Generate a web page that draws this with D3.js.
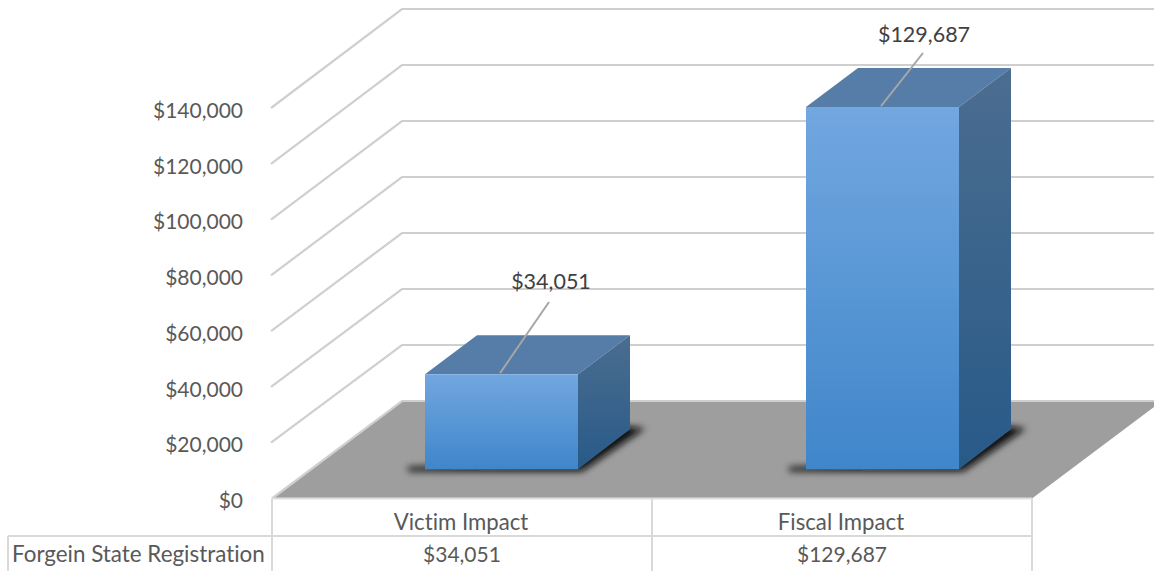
<!DOCTYPE html>
<html>
<head>
<meta charset="utf-8">
<script src="https://cdn.jsdelivr.net/npm/d3@7/dist/d3.min.js"></script>
<style>
html,body{margin:0;padding:0;background:#fff;overflow:hidden}
svg{display:block}
text{font-family:Lato,"Open Sans",sans-serif;font-size:21px;fill:#595959;font-variant-ligatures:none}
text.word{font-size:22.2px}
text.series{font-size:22.4px}
text.data{font-size:21.5px;fill:#404040}
</style>
</head>
<body>
<svg id="c" width="1154" height="571"></svg>
<script>
const categories = ["Victim Impact", "Fiscal Impact"];
const seriesName = "Forgein State Registration";
const seriesValues = [34051, 129687];
const tickValues = [0, 20000, 40000, 60000, 80000, 100000, 120000, 140000];

const fmt = d3.format("$,.0f");
const svg = d3.select("#c");
const W = 1154, H = 571;

const x = d3.scaleBand().domain(categories).range([272, 1032]);
const xBar = d3.scaleBand().domain(categories).range([272, 1034]);
const yFront = d3.scaleLinear().domain([0, 140000]).range([498.5, 108]);
const yBack = d3.scaleLinear().domain([0, 140000]).range([401, 9]);
const DEPTH_X = 130;
const depthStart = 0.3, depthEnd = 0.7, barW = 153;
const project = (px, v, d) => {
  const yf = yFront(v), yb = yBack(v);
  return [px + DEPTH_X * d, yf + (yb - yf) * d];
};
const line = d3.line();

const defs = svg.append("defs");
function grad(id, c0, c1) {
  const g = defs.append("linearGradient").attr("id", id).attr("x1", 0).attr("x2", 0).attr("y1", 0).attr("y2", 1);
  g.append("stop").attr("offset", 0).attr("stop-color", c0);
  g.append("stop").attr("offset", 1).attr("stop-color", c1);
}
grad("front", "#72a7e0", "#3f86ca");
grad("side", "#4b6d90", "#285a88");
defs.append("filter").attr("id", "blur").attr("x", "-20%").attr("y", "-30%").attr("width", "140%").attr("height", "160%")
  .append("feGaussianBlur").attr("stdDeviation", 3.5);

// floor
svg.append("path")
  .attr("d", line([[x.range()[0], yFront(0)], [x.range()[0] + DEPTH_X, yBack(0)], [x.range()[1] + DEPTH_X, yBack(0)], [x.range()[1], yFront(0)]]) + "Z")
  .attr("fill", "#9e9e9e");

// gridlines
const walls = svg.append("g").attr("fill", "none").attr("stroke", "#cfcfcf").attr("stroke-width", 2.2);
tickValues.forEach(t => {
  const pts = t === 0
    ? [[x.range()[0], yFront(0)], [x.range()[0] + DEPTH_X, yBack(0)], [W + 10, yBack(0)]]
    : [[x.range()[0] - 1, yFront(t)], [x.range()[0] + DEPTH_X, yBack(t)], [W + 10, yBack(t)]];
  walls.append("path").attr("d", line(pts));
});
svg.append("path").attr("fill", "none").attr("stroke", "#dedede").attr("stroke-width", 2)
  .attr("d", line([[x.range()[0], yFront(0)], [x.range()[1], yFront(0)]]));

// bars
categories.forEach((cat, i) => {
  const v = seriesValues[i];
  const cx = xBar(cat) + xBar.bandwidth() / 2;
  const l = cx - barW / 2, r = cx + barW / 2;
  const fbl = project(l, 0, depthStart), fbr = project(r, 0, depthStart), ftl = project(l, v, depthStart), ftr = project(r, v, depthStart);
  const dx = DEPTH_X * (depthEnd - depthStart);
  const bbr = [fbr[0] + dx, fbr[1] - 40];
  const btr = [ftr[0] + dx, ftr[1] - 39];
  const btl = [ftl[0] + dx, ftl[1] - 39];

  svg.append("path")
    .attr("d", line([[fbl[0] - 17, fbl[1] + 2], [fbr[0] + 4, fbr[1] + 2], [bbr[0] + 15, bbr[1] - 1], [bbr[0] - 6, bbr[1] - 3], [fbr[0] - 6, fbr[1] - 8], [fbl[0] - 17, fbl[1] - 2]]) + "Z")
    .attr("fill", "#111").attr("filter", "url(#blur)");

  svg.append("path").attr("d", line([ftl, ftr, btr, btl]) + "Z").attr("fill", "#567ca8");
  svg.append("path").attr("d", line([ftr, btr, bbr, fbr]) + "Z").attr("fill", "url(#side)");
  svg.append("path").attr("d", line([ftl, ftr, fbr, fbl]) + "Z").attr("fill", "url(#front)");

  // leader + data label
  const lx = ftl[0] + 76, ly = ftl[1];
  const tx = lx + (i === 0 ? 49 : 42), ty = i === 0 ? 281 : 34;
  svg.append("path").attr("fill", "none").attr("stroke", "#a6a6a6").attr("stroke-width", 2)
    .attr("d", line([[lx - 1, ly - 1], [tx - 1, ty + (i === 0 ? 21 : 19)]]));
  svg.append("text").attr("class", "data").attr("x", tx + (i === 0 ? 1 : 0)).attr("y", ty).attr("text-anchor", "middle")
    .attr("dominant-baseline", "central").text(fmt(v));
});

// y axis
const axis = svg.append("g").attr("transform", "translate(243,2.5)")
  .call(d3.axisLeft(yFront).tickValues(tickValues).tickFormat(fmt).tickSize(0).tickPadding(0));
axis.select(".domain").remove();
axis.selectAll("text").style("font-size", "21px").style("font-family", 'Lato,"Open Sans",sans-serif').style("fill", "#595959");

// data table
const tbl = svg.append("g").attr("fill", "none").attr("stroke", "#d9d9d9").attr("stroke-width", 2);
const rowY = 536;
tbl.append("path").attr("d", line([[8, rowY], [x.range()[1], rowY]]));
tbl.append("path").attr("d", line([[8, rowY], [8, H]]));
[x.range()[0], x.range()[0] + x.bandwidth(), x.range()[1]].forEach(px =>
  tbl.append("path").attr("d", line([[px, yFront(0)], [px, H]])));

categories.forEach((cat, i) => {
  const cx = x(cat) + x.bandwidth() / 2;
  svg.append("text").attr("class", "word").attr("x", cx - 1).attr("y", 521).attr("text-anchor", "middle").attr("dominant-baseline", "central").text(cat);
  svg.append("text").attr("x", cx).attr("y", 553).attr("text-anchor", "middle").attr("dominant-baseline", "central").text(fmt(seriesValues[i]));
});
svg.append("text").attr("class", "series").attr("x", 12).attr("y", 553).attr("dominant-baseline", "central").text(seriesName);
</script>
</body>
</html>
